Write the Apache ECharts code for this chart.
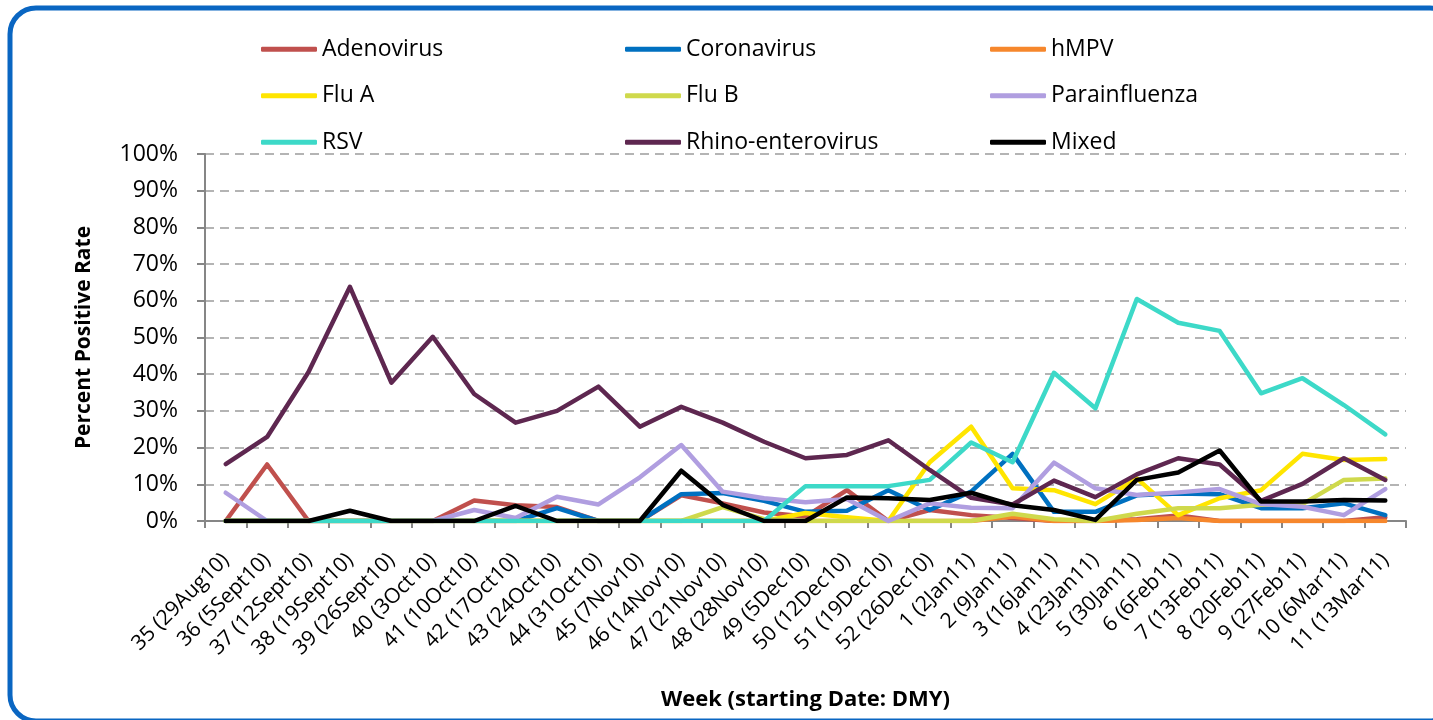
<!DOCTYPE html>
<html>
<head>
<meta charset="utf-8">
<script src="https://cdn.jsdelivr.net/npm/echarts@6/dist/echarts.min.js"></script>
<style>
html,body{margin:0;padding:0;background:#fff;}
#chart{width:1433px;height:720px;}
</style>
</head>
<body>
<div id="chart"></div>
<script>
const weeks = ["35 (29Aug10)","36 (5Sept10)","37 (12Sept10)","38 (19Sept10)","39 (26Sept10)","40 (3Oct10)","41 (10Oct10)","42 (17Oct10)","43 (24Oct10)","44 (31Oct10)","45 (7Nov10)","46 (14Nov10)","47 (21Nov10)","48 (28Nov10)","49 (5Dec10)","50 (12Dec10)","51 (19Dec10)","52 (26Dec10)","1 (2Jan11)","2 (9Jan11)","3 (16Jan11)","4 (23Jan11)","5 (30Jan11)","6 (6Feb11)","7 (13Feb11)","8 (20Feb11)","9 (27Feb11)","10 (6Mar11)","11 (13Mar11)"];

const adenovirus    = [0,15.4,0,0,0,0,5.6,4.3,3.8,0,0,7,4.8,2.3,1.2,8.4,0,3,1.6,0.8,0,0,0.5,1.5,0,0,0,0,1];
const coronavirus   = [0,0,0,0,0,0,0,0,3.5,0,0,7.3,7.6,5.5,2.5,2.8,8.4,3,8,18.3,2.5,2.5,7,7.5,7.3,3.5,3.5,4.8,1.6];
const hmpv          = [0,0,0,0,0,0,0,0,0,0,0,0,0,0,0,0,0,0,0,1.2,0,0,0.3,0.8,0,0,0,0,0];
const fluA          = [0,0,0,0,0,0,0,0,0,0,0,0,0,0,2.2,1,0,16,25.7,8.9,8.4,4.6,11.6,1.6,6.2,8.4,18.3,16.6,16.9];
const fluB          = [0,0,0,0,0,0,0,0,0,0,0,0,3.8,0.5,0,0,0,0,0,2,0.5,0,2,3.5,3.5,4.4,4.6,11.2,11.6];
const parainfluenza = [7.7,0,0,0,0,0,3,0.8,6.6,4.5,11.9,20.7,8,6.2,5.1,6,0,4.8,3.6,3.5,15.9,8.9,7.1,7.8,8.7,4.6,3.9,1.6,8.7];
const rsv           = [0,0,0,0,0,0,0,0,0,0,0,0,0,0,9.5,9.5,9.5,11.2,21.4,16,40.4,30.7,60.5,54,51.8,34.8,38.9,31.6,23.6];
const rhino         = [15.5,22.9,40.6,63.8,37.7,50.2,34.6,26.8,30,36.6,25.7,31.1,26.8,21.6,17.1,18,22,13.9,6.3,4.5,11,6.5,12.7,17.1,15.4,5.5,10.1,17.1,11.2];
const mixed         = [0,0,0,2.8,0,0,0,4.1,0,0,0,13.7,4.4,0,0,6.4,6.2,5.7,7.7,4.3,3,0.3,11.2,13.2,19.2,5.3,5.3,5.7,5.6];

const yTicks = [0,10,20,30,40,50,60,70,80,90,100];

const seriesDefs = [
  ["Adenovirus", adenovirus, "#c0504d"],
  ["Coronavirus", coronavirus, "#0070c0"],
  ["hMPV", hmpv, "#f6872c"],
  ["Flu A", fluA, "#ffe500"],
  ["Flu B", fluB, "#cfd94c"],
  ["Parainfluenza", parainfluenza, "#b09ee0"],
  ["RSV", rsv, "#3dd9c8"],
  ["Rhino-enterovirus", rhino, "#5e2750"],
  ["Mixed", mixed, "#000000"]
];

const FONT = "Open Sans";
const chart = echarts.init(document.getElementById('chart'), null, {renderer:'canvas'});

function legendCol(left, names){
  return {
    orient:'vertical', left:left, top:31,
    icon:'roundRect', itemWidth:56, itemHeight:5, itemGap:20,
    data:names,
    textStyle:{fontFamily:FONT, fontSize:23, color:'#000', lineHeight:26.5},
    selectedMode:false
  };
}

chart.setOption({
  animation:false,
  backgroundColor:'#fff',
  graphic:[{
    type:'rect', silent:true, z:-1,
    shape:{x:10, y:8, width:1446, height:713, r:26},
    style:{fill:'none', stroke:'#0a66c2', lineWidth:5}
  }],
  legend:[
    legendCol(256, ["Adenovirus","Flu A","RSV"]),
    legendCol(620, ["Coronavirus","Flu B","Rhino-enterovirus"]),
    legendCol(985, ["hMPV","Parainfluenza","Mixed"])
  ],
  grid:{left:205, right:27, top:154, bottom:199, containLabel:false},
  xAxis:{
    type:'category', data:weeks, boundaryGap:true,
    name:'Week (starting Date: DMY)', nameLocation:'middle', nameGap:168,
    nameTextStyle:{fontFamily:FONT, fontSize:22, fontWeight:'bold', color:'#000'},
    axisLine:{lineStyle:{color:'#868686', width:2}},
    axisTick:{show:true, interval:0, length:7, lineStyle:{color:'#868686', width:2}},
    axisLabel:{interval:0, rotate:45, margin:36, fontFamily:FONT, fontSize:21, color:'#000'}
  },
  yAxis:{
    type:'value', min:0, max:100, interval:10,
    name:'Percent Positive Rate', nameLocation:'middle', nameGap:110, nameRotate:90,
    nameTextStyle:{fontFamily:FONT, fontSize:21, fontWeight:'bold', color:'#000'},
    axisLine:{show:true, lineStyle:{color:'#868686', width:2}},
    axisTick:{show:true, length:8, lineStyle:{color:'#868686', width:2}},
    axisLabel:{margin:27, fontFamily:FONT, fontSize:23, color:'#000',
      formatter:function(v){ return yTicks.indexOf(v) >= 0 ? v + '%' : ''; }},
    splitLine:{show:true, lineStyle:{color:'#b4b4b4', width:2, type:[9,6]}}
  },
  series: seriesDefs.map(function(d, i){
    return {
      name:d[0], type:'line', data:d[1], symbol:'none', smooth:false, z:2+i,
      color:d[2],
      lineStyle:{color:d[2], width:4.5, join:'round', cap:'round'},
      itemStyle:{color:d[2]}
    };
  })
});
</script>
</body>
</html>
